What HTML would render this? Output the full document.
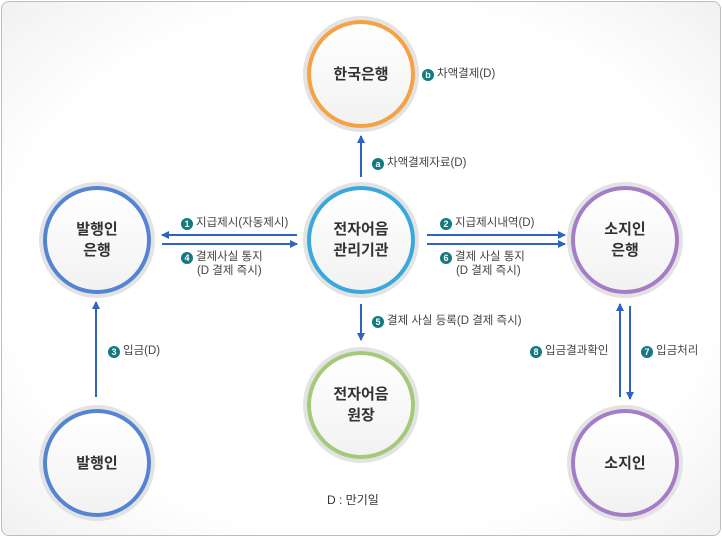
<!DOCTYPE html><html><head><meta charset="utf-8"><style>
body{margin:0;width:722px;height:537px;background:#fff;font-family:"Liberation Sans","Noto Sans CJK KR",sans-serif;overflow:hidden}
.panel{position:absolute;left:1px;top:1px;width:718px;height:533px;border:1px solid #bdbdbd;border-radius:8px;background:radial-gradient(ellipse at center,#fff 70%,#f1f1f1 100%)}
.c{position:absolute;width:100px;height:100px;border-radius:50%;border:4px solid;box-shadow:0 0 0 4px #e3e3e3;background:linear-gradient(#fff,#f2f2f2);display:flex;align-items:center;justify-content:center;text-align:center;font-size:15px;font-weight:bold;color:#333;line-height:21px;box-sizing:content-box}
.l{position:absolute;font-size:11.5px;color:#444;white-space:nowrap;line-height:14px}
.n{display:inline-block;width:12px;height:12px;border-radius:50%;background:#127a80;color:#fff;font-size:9px;font-weight:bold;text-align:center;line-height:12px;margin-right:3px;vertical-align:-1px}
</style></head><body>
<div class="panel"></div>
<svg style="position:absolute;left:0;top:0" width="722" height="537">
<defs><marker id="a" markerWidth="8" markerHeight="8" refX="7" refY="4" orient="auto" markerUnits="userSpaceOnUse"><path d="M0,0L8,4L0,8z" fill="#2f63c0"/></marker></defs>
<g stroke="#2f63c0" stroke-width="2" marker-end="url(#a)">
<line x1="297" y1="235" x2="162" y2="235"/><line x1="162" y1="244" x2="297" y2="244"/>
<line x1="427" y1="235" x2="565" y2="235"/><line x1="427" y1="244" x2="565" y2="244"/>
<line x1="361" y1="177" x2="361" y2="136"/><line x1="361" y1="304" x2="361" y2="340"/>
<line x1="96" y1="397" x2="96" y2="302"/>
<line x1="620" y1="397" x2="620" y2="304"/><line x1="630" y1="306" x2="630" y2="399"/>
</g></svg>
<div class="c" style="left:307px;top:20px;border-color:#f5a144">한국은행</div>
<div class="c" style="left:43px;top:186px;border-color:#5585d0">발행인<br>은행</div>
<div class="c" style="left:307px;top:186px;border-color:#3ba8dc">전자어음<br>관리기관</div>
<div class="c" style="left:571px;top:186px;border-color:#a57cc6">소지인<br>은행</div>
<div class="c" style="left:307px;top:351px;border-color:#a5c97a">전자어음<br>원장</div>
<div class="c" style="left:43px;top:409px;border-color:#5585d0">발행인</div>
<div class="c" style="left:571px;top:409px;border-color:#a57cc6">소지인</div>
<div class="l" style="left:422px;top:67px"><span class="n">b</span>차액결제(D)</div>
<div class="l" style="left:372px;top:156px"><span class="n">a</span>차액결제자료(D)</div>
<div class="l" style="left:181px;top:216px"><span class="n">1</span>지급제시(자동제시)</div>
<div class="l" style="left:181px;top:250px"><span class="n">4</span>결제사실 통지<br>&nbsp;&nbsp;&nbsp;&nbsp;&nbsp;(D 결제 즉시)</div>
<div class="l" style="left:440px;top:216px"><span class="n">2</span>지급제시내역(D)</div>
<div class="l" style="left:440px;top:250px"><span class="n">6</span>결제 사실 통지<br>&nbsp;&nbsp;&nbsp;&nbsp;&nbsp;(D 결제 즉시)</div>
<div class="l" style="left:372px;top:314px"><span class="n">5</span>결제 사실 등록(D 결제 즉시)</div>
<div class="l" style="left:108px;top:344px"><span class="n">3</span>입금(D)</div>
<div class="l" style="left:530px;top:344px"><span class="n">8</span>입금결과확인</div>
<div class="l" style="left:641px;top:344px"><span class="n">7</span>입금처리</div>
<div class="l" style="left:327px;top:493px;font-size:12px;color:#333">D : 만기일</div>
</body></html>
